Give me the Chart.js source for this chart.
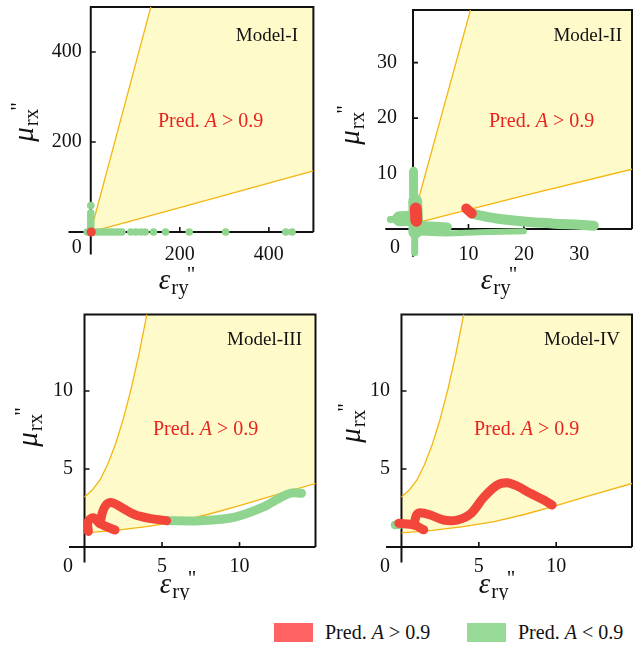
<!DOCTYPE html>
<html>
<head>
<meta charset="utf-8">
<script src="https://cdn.jsdelivr.net/npm/chart.js@4.4.1/dist/chart.umd.min.js"></script>
<style>
  html, body { margin: 0; padding: 0; background: #fff; }
  #fig { position: relative; width: 637px; height: 648px; font-family: "Liberation Serif", serif; color: #111; }
  #fig canvas { position: absolute; }
  .key { position: absolute; top: 621px; height: 22px; display: flex; align-items: center; font-size: 20px; white-space: nowrap; }
  .key .sw { display: inline-block; width: 39px; height: 19px; margin-right: 12px; }
</style>
</head>
<body>
<div id="fig">
  <canvas id="m1" width="318" height="300" style="left:0;top:0"></canvas>
  <canvas id="m2" width="319" height="300" style="left:318px;top:0"></canvas>
  <canvas id="m3" width="318" height="300" style="left:0;top:300px"></canvas>
  <canvas id="m4" width="319" height="300" style="left:318px;top:300px"></canvas>
  <div class="key" style="left:274px"><span class="sw" style="background:#ff6363"></span>Pred.&nbsp;<i>A</i>&nbsp;&gt; 0.9</div>
  <div class="key" style="left:467px"><span class="sw" style="background:#97da97"></span>Pred.&nbsp;<i>A</i>&nbsp;&lt; 0.9</div>
</div>
<script>
/* ---------- zone where A > 0.9 is predicted (upper / lower edge) ---------- */
// wide view, used by Model-I and Model-II
const zoneUpperWide = [[0, 3.2], [1, 5.4], [5, 20], [10.5, 40], [50, 186], [100, 371], [140, 519]];
const zoneLowerWide = [[0, 0.9], [1, 1.2], [20, 6.0], [40, 10.9], [200, 54], [500, 136]];
// close view, used by Model-III and Model-IV
const zoneUpperNear = [[0, 3.2], [0.5, 3.65], [1, 4.3], [1.5, 5.3], [2, 6.6], [2.5, 8.2], [3, 10.1], [3.5, 12.3], [4, 14.8], [4.5, 17.6]];
const zoneLowerNear = [[0, 0.9], [2, 1.07], [4, 1.3], [6, 1.63], [8, 2.1], [10, 2.65], [12, 3.25], [15, 4.1]];

/* ---------- tick values ---------- */
const m1Ticks = [200, 400];
const m2Ticks = [10, 20, 30];
const m34Ticks = [5, 10];

/* ---------- Model-I : single points ---------- */
const m1Green = [
  [-8, 0], [0, 0], [7, 0], [14, 0], [21, 0], [28, 0], [35, 0], [42, 0], [49, 0], [56, 0], [63, 0], [70, 0],
  [90, 0], [101, 0], [112, 0], [122, 0], [141, 0], [168, 0], [221, 0], [303, 0], [438, 0], [452, 0],
  [0, 7], [0, 14], [0, 21], [0, 28], [0, 35], [0, 42], [0, 59]
];
const m1Red = [[1, 0]];

/* ---------- Model-II : traces ---------- */
const m2GreenStem = [[0.1, 10.4], [0.1, 7], [0.2, 3]];
const m2GreenBase = [[0.4, 5], [0.5, 1.5], [0.4, -0.5]];
const m2GreenFoot = [[0.3, -0.5], [0.3, -4.3]];
const m2GreenWingTip = [[-4.1, 1.7], [-1, 1.9]];
const m2GreenWing = [[-2.4, 1.85], [0, 1.9]];
const m2GreenFloor = [[0.5, 0.7], [3, 0.55], [6.2, 0.35]];
const m2GreenUnder = [[0.5, -0.6], [6, -0.8], [12, -0.6], [20, -0.4]];
const m2GreenTail = [[10.6, 2.8], [12, 2.45], [15, 1.9], [20, 1.35], [25, 1.0], [30, 0.75], [32.6, 0.6]];
const m2RedLow = [[0.5, 3.7], [0.6, 1.5]];
const m2RedMid = [[9.6, 3.7], [10.6, 2.8]];

/* ---------- Model-III : traces ---------- */
const m3RedHook = [[1.97, 1.09], [1.0, 1.5], [0.57, 1.88], [0.22, 1.6], [0.25, 1.0]];
const m3RedArc = [[1.0, 1.5], [1.2, 2.35], [1.5, 2.8], [1.85, 2.82], [2.5, 2.47], [3.3, 2.05], [4.2, 1.84], [5.3, 1.69]];
const m3Green = [[5.3, 1.69], [7.5, 1.69], [9.7, 1.92], [11.5, 2.55], [12.6, 3.15], [13.3, 3.46], [14.0, 3.45]];

/* ---------- Model-IV : traces ---------- */
const m4Green = [[-0.4, 1.42], [0, 1.47]];
const m4RedHook = [[1.44, 1.1], [0.81, 1.41], [-0.17, 1.52]];
const m4RedArc = [[0.81, 1.41], [0.97, 2.05], [1.23, 2.2], [1.87, 2.05], [2.73, 1.73], [3.6, 1.73], [4.46, 2.12],
  [5.32, 3.19], [6.18, 3.97], [6.83, 4.12], [7.47, 3.91], [8.33, 3.44], [9.2, 3.01], [9.74, 2.69]];

/* ---------- colours ---------- */
const RED = '#f2463a';
const GREEN = '#8fd58f';
const GOLD = '#f3b512';
const ZONE = '#fffac9';
const SERIF = '"Liberation Serif", "Times New Roman", serif';

const pts = arr => arr.map(([x, y]) => ({ x, y }));

function zoneSets(upper, lower) {
  return [
    { data: pts(lower), borderColor: GOLD, borderWidth: 1.3, pointRadius: 0, fill: 'end', backgroundColor: ZONE, order: 20 },
    { data: pts(upper), borderColor: GOLD, borderWidth: 1.3, pointRadius: 0, fill: 'end', backgroundColor: '#ffffff', order: 19 }
  ];
}

function trace(arr, color, width, order) {
  return {
    data: pts(arr), borderColor: color, borderWidth: width, pointRadius: 0, tension: 0.35,
    borderCapStyle: 'round', borderJoinStyle: 'round', fill: false, order
  };
}

function dots(arr, color, r, order) {
  return { data: pts(arr), showLine: false, pointRadius: r, pointBackgroundColor: color, pointBorderWidth: 0, order };
}

/* ---------- rich text helper (italic symbol + subscript + double prime) ---------- */
function richText(ctx, parts, cx, cy, rotate) {
  ctx.save();
  ctx.translate(cx, cy);
  if (rotate) ctx.rotate(-Math.PI / 2);
  ctx.textBaseline = 'alphabetic';
  ctx.textAlign = 'left';
  let total = 0;
  parts.forEach(p => { ctx.font = p.font; p.w = ctx.measureText(p.t).width; total += p.w + (p.kern || 0); });
  let x = -total / 2;
  parts.forEach(p => { ctx.font = p.font; ctx.fillText(p.t, x, p.dy); x += p.w + (p.kern || 0); });
  ctx.restore();
}

const muTitle = [
  { t: 'μ', font: `italic 29px ${SERIF}`, dy: 6, kern: 1 },
  { t: 'rx', font: `21px ${SERIF}`, dy: 11, kern: -2 },
  { t: '"', font: `21px ${SERIF}`, dy: -2 }
];
const epsTitle = [
  { t: 'ε', font: `italic 29px ${SERIF}`, dy: 5, kern: 1 },
  { t: 'ry', font: `21px ${SERIF}`, dy: 10, kern: -2 },
  { t: '"', font: `21px ${SERIF}`, dy: -3 }
];

/* ---------- frame, axes through the origin, ticks and labels ---------- */
const axesFrame = {
  id: 'axesFrame',
  beforeDatasetsDraw(chart, args, o) {
    const { ctx, chartArea: a, scales: { x, y } } = chart;
    const x0 = x.getPixelForValue(0), y0 = y.getPixelForValue(0);
    ctx.save();
    ctx.strokeStyle = '#111';
    ctx.lineWidth = 2;
    ctx.beginPath();
    ctx.moveTo(a.left, y0); ctx.lineTo(a.right, y0);
    ctx.moveTo(x0, a.bottom); ctx.lineTo(x0, a.top);
    ctx.lineTo(a.right, a.top); ctx.lineTo(a.right, y0);
    ctx.stroke();
    ctx.lineWidth = 1.6;
    ctx.beginPath();
    o.ticks.forEach(v => {
      const px = x.getPixelForValue(v), py = y.getPixelForValue(v);
      ctx.moveTo(px, y0); ctx.lineTo(px, y0 - 5);
      ctx.moveTo(x0, py); ctx.lineTo(x0 + 5, py);
    });
    ctx.stroke();
    ctx.restore();
  },
  afterDatasetsDraw(chart, args, o) {
    const { ctx, scales: { x, y } } = chart;
    const x0 = x.getPixelForValue(0), y0 = y.getPixelForValue(0);
    ctx.save();
    ctx.fillStyle = '#111';
    ctx.font = `20px ${SERIF}`;
    ctx.textBaseline = 'middle';
    ctx.textAlign = 'center';
    o.ticks.forEach(v => ctx.fillText(String(v), x.getPixelForValue(v), y0 + o.xDy));
    ctx.textAlign = 'right';
    o.ticks.forEach(v => ctx.fillText(String(v), x0 - o.yGap, y.getPixelForValue(v)));
    ctx.fillText('0', x0 - o.zeroGap, y0 + o.zeroDy);

    // model name
    ctx.font = `19px ${SERIF}`;
    ctx.fillText(o.name, o.nameAt[0], o.nameAt[1]);

    // zone label
    ctx.fillStyle = '#e8231f';
    ctx.textAlign = 'left';
    let px = o.predAt[0];
    const py = o.predAt[1];
    [['Pred. ', `20px ${SERIF}`], ['A', `italic 20px ${SERIF}`], [' > 0.9', `20px ${SERIF}`]].forEach(([t, f]) => {
      ctx.font = f; ctx.fillText(t, px, py); px += ctx.measureText(t).width;
    });

    ctx.fillStyle = '#111';
    richText(ctx, muTitle, o.yTitleAt[0], o.yTitleAt[1], true);
    richText(ctx, epsTitle, o.xTitleAt[0], o.xTitleAt[1], false);
    ctx.restore();
  }
};

function makePanel(id, datasets, range, pad, frame) {
  new Chart(document.getElementById(id), {
    type: 'line',
    data: { datasets },
    options: {
      responsive: false,
      animation: false,
      events: [],
      layout: { padding: pad },
      scales: {
        x: { type: 'linear', min: range[0], max: range[1], display: false },
        y: { type: 'linear', min: range[0], max: range[1], display: false }
      },
      plugins: {
        legend: { display: false },
        tooltip: { enabled: false },
        filler: { drawTime: 'beforeDatasetsDraw' },
        axesFrame: frame
      }
    },
    plugins: [axesFrame]
  });
}

/* ---------- Model-I ---------- */
makePanel('m1', [
  ...zoneSets(zoneUpperWide, zoneLowerWide),
  dots(m1Green, GREEN, 3.8, 5),
  dots(m1Red, RED, 4.6, 1)
], [-50, 500], { left: 68.5, right: 2.5, top: 7, bottom: 45.5 }, {
  ticks: m1Ticks, xDy: 23, yGap: 9, zeroGap: 9, zeroDy: 16,
  name: 'Model-I', nameAt: [298, 36], predAt: [158, 122],
  yTitleAt: [27, 122], xTitleAt: [177, 284]
});

/* ---------- Model-II ---------- */
makePanel('m2', [
  ...zoneSets(zoneUpperWide, zoneLowerWide),
  trace(m2GreenFoot, GREEN, 7, 9),
  trace(m2GreenUnder, GREEN, 6, 9),
  trace(m2GreenStem, GREEN, 9, 8),
  trace(m2GreenBase, GREEN, 14, 8),
  trace(m2GreenWingTip, GREEN, 7, 8),
  trace(m2GreenWing, GREEN, 15, 8),
  trace(m2GreenFloor, GREEN, 9, 8),
  trace(m2GreenTail, GREEN, 10, 7),
  trace(m2RedLow, RED, 12, 2),
  trace(m2RedMid, RED, 10, 2)
], [-5, 39.5], { left: 67.3, right: 5, top: 10, bottom: 43.3 }, {
  ticks: m2Ticks, xDy: 25.5, yGap: 16, zeroGap: 13, zeroDy: 18.5,
  name: 'Model-II', nameAt: [304, 36], predAt: [171, 122],
  yTitleAt: [35, 125], xTitleAt: [181, 284]
});

/* ---------- Model-III ---------- */
makePanel('m3', [
  ...zoneSets(zoneUpperNear, zoneLowerNear),
  trace(m3Green, GREEN, 9, 6),
  trace(m3RedHook, RED, 9, 2),
  trace(m3RedArc, RED, 9, 2)
], [-1, 14.9], { left: 69, right: 2.5, top: 14.6, bottom: 37.4 }, {
  ticks: m34Ticks, xDy: 20, yGap: 11.5, zeroGap: 11.5, zeroDy: 20,
  name: 'Model-III', nameAt: [302, 40], predAt: [153, 130],
  yTitleAt: [31, 127], xTitleAt: [178, 288]
});

/* ---------- Model-IV ---------- */
makePanel('m4', [
  ...zoneSets(zoneUpperNear, zoneLowerNear),
  trace(m4Green, GREEN, 9, 6),
  trace(m4RedHook, RED, 9, 2),
  trace(m4RedArc, RED, 9, 2)
], [-1, 14.9], { left: 68, right: 5, top: 14.6, bottom: 37.4 }, {
  ticks: m34Ticks, xDy: 20, yGap: 11.5, zeroGap: 11.5, zeroDy: 20,
  name: 'Model-IV', nameAt: [302, 40], predAt: [156, 130],
  yTitleAt: [36, 123], xTitleAt: [179, 288]
});
</script>
</body>
</html>
